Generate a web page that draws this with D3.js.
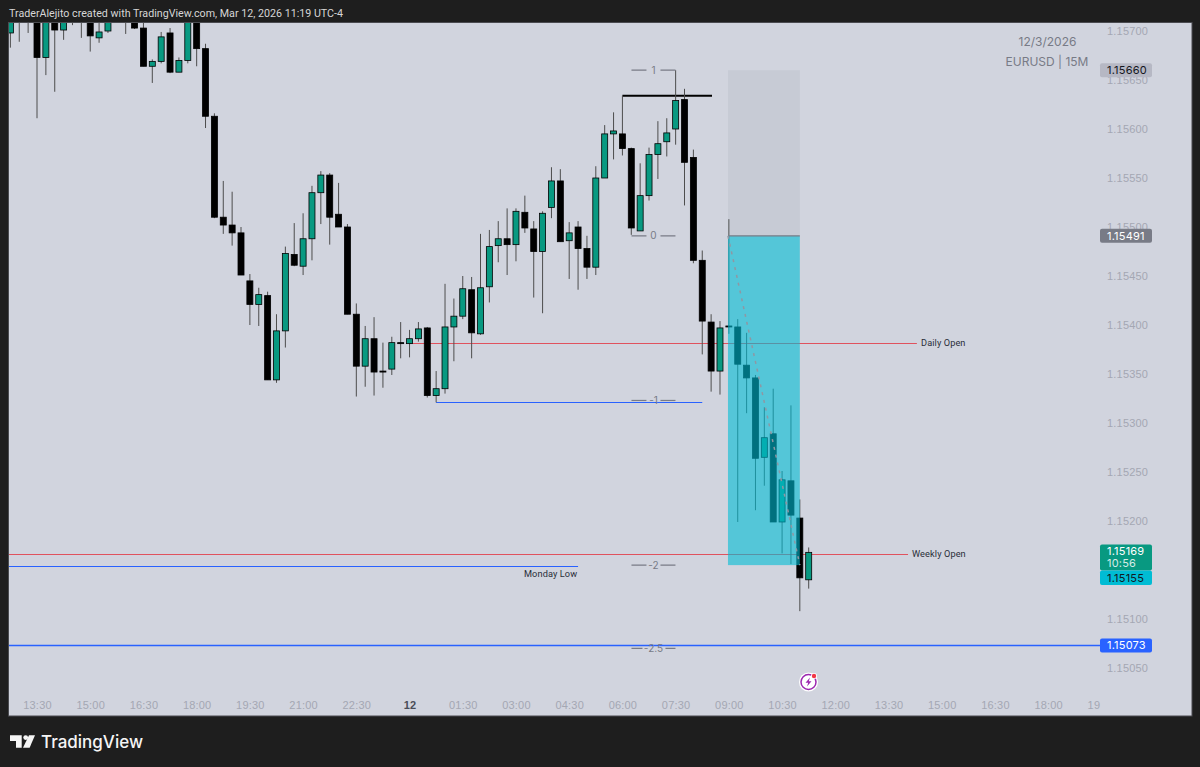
<!DOCTYPE html>
<html>
<head>
<meta charset="utf-8">
<script src="https://cdnjs.cloudflare.com/ajax/libs/d3/7.8.5/d3.min.js"></script>
<style>
  html, body { margin: 0; padding: 0; background: #1e1e1e; }
  svg { display: block; font-family: Inter, "Noto Sans", sans-serif; }
  .tick text { fill: #a4a7b3; font-size: 11px; letter-spacing: 0.2px; }
</style>
</head>
<body>
<div id="chart"></div>
<script>
// candles, one entry per 15 minute bar
var opens = [
  1.15698,1.15725,1.15715,1.15730,1.15673,1.15720,1.15701,1.15725,1.15715,1.15720,
  1.15693,1.15700,1.15730,1.15715,1.15715,1.15703,1.15664,1.15669,1.15698,1.15658,
  1.15670,1.15720,1.15682,1.15613,1.15510,1.15502,1.15494,1.15445,1.15421,1.15430,
  1.15344,1.15394,1.15472,1.15460,1.15488,1.15535,1.15553,1.15513,1.15500,1.15411,
  1.15358,1.15386,1.15353,1.15355,1.15382,1.15381,1.15386,1.15397,1.15328,1.15335,
  1.15398,1.15409,1.15436,1.15391,1.15439,1.15481,1.15488,1.15482,1.15515,1.15498,
  1.15475,1.15520,1.15547,1.15486,1.15500,1.15478,1.15459,1.15550,1.15595,1.15595,
  1.15580,1.15496,1.15532,1.15574,1.15587,1.15600,1.15630,1.15571,1.15466,1.15403,
  1.15353,1.15399,1.15398,1.15359,1.15346,1.15265,1.15289,1.15199,1.15241,1.15203,
  1.15140
];
var highs = [
  1.15720,1.15735,1.15735,1.15735,1.15725,1.15725,1.15720,1.15730,1.15730,1.15725,
  1.15715,1.15720,1.15735,1.15730,1.15720,1.15715,1.15671,1.15699,1.15703,1.15673,
  1.15725,1.15725,1.15687,1.15616,1.15547,1.15536,1.15500,1.15452,1.15438,1.15434,
  1.15411,1.15480,1.15504,1.15514,1.15542,1.15557,1.15555,1.15545,1.15503,1.15422,
  1.15399,1.15408,1.15382,1.15388,1.15403,1.15395,1.15403,1.15398,1.15353,1.15442,
  1.15427,1.15450,1.15449,1.15493,1.15497,1.15506,1.15519,1.15519,1.15532,1.15506,
  1.15516,1.15561,1.15559,1.15505,1.15506,1.15491,1.15562,1.15604,1.15617,1.15634,
  1.15581,1.15565,1.15581,1.15608,1.15611,1.15660,1.15641,1.15579,1.15476,1.15411,
  1.15404,1.15508,1.15406,1.15392,1.15349,1.15316,1.15335,1.15251,1.15318,1.15222,
  1.15173
];
var lows = [
  1.15683,1.15689,1.15698,1.15611,1.15655,1.15638,1.15691,1.15706,1.15693,1.15679,
  1.15688,1.15698,1.15712,1.15697,1.15702,1.15664,1.15647,1.15667,1.15657,1.15658,
  1.15667,1.15664,1.15601,1.15509,1.15493,1.15481,1.15451,1.15400,1.15399,1.15344,
  1.15341,1.15377,1.15460,1.15451,1.15466,1.15503,1.15482,1.15500,1.15411,1.15327,
  1.15337,1.15328,1.15336,1.15349,1.15366,1.15367,1.15383,1.15326,1.15321,1.15330,
  1.15363,1.15406,1.15366,1.15390,1.15423,1.15464,1.15451,1.15465,1.15494,1.15428,
  1.15412,1.15509,1.15485,1.15447,1.15436,1.15447,1.15451,1.15550,1.15569,1.15573,
  1.15492,1.15496,1.15527,1.15549,1.15572,1.15584,1.15522,1.15463,1.15370,1.15332,
  1.15329,1.15391,1.15199,1.15310,1.15211,1.15236,1.15199,1.15167,1.15156,1.15108,
  1.15131
];
var closes = [
  1.15715,1.15715,1.15730,1.15673,1.15720,1.15701,1.15715,1.15715,1.15725,1.15695,
  1.15699,1.15715,1.15720,1.15725,1.15703,1.15664,1.15669,1.15694,1.15658,1.15670,
  1.15720,1.15682,1.15613,1.15510,1.15502,1.15494,1.15451,1.15421,1.15431,1.15344,
  1.15394,1.15473,1.15461,1.15488,1.15535,1.15553,1.15510,1.15500,1.15411,1.15358,
  1.15386,1.15352,1.15352,1.15382,1.15381,1.15386,1.15396,1.15328,1.15335,1.15398,
  1.15409,1.15437,1.15392,1.15438,1.15480,1.15488,1.15482,1.15516,1.15499,1.15475,
  1.15514,1.15547,1.15485,1.15494,1.15478,1.15459,1.15550,1.15595,1.15598,1.15580,
  1.15499,1.15532,1.15574,1.15585,1.15596,1.15629,1.15566,1.15466,1.15404,1.15353,
  1.15397,1.15398,1.15360,1.15346,1.15264,1.15285,1.15199,1.15242,1.15206,1.15142,
  1.15168
];

// axes
var priceTicks = [1.15700,1.15650,1.15600,1.15550,1.15500,1.15450,1.15400,1.15350,1.15300,1.15250,1.15200,1.15100,1.15050];
var timeTickBars = [3,9,15,21,27,33,39,45,51,57,63,69,75,81,87,93,99,105,111,117,123];
var timeTickLabels = ["13:30","15:00","16:30","18:00","19:30","21:00","22:30","12","01:30","03:00","04:30","06:00","07:30","09:00","10:30","12:00","13:30","15:00","16:30","18:00","19"];

// horizontal levels: price, first bar, last bar
var levelNames = ["Daily Open","Weekly Open","Monday Low","Target","High","Low"];
var levelPrices = [1.15382,1.15166,1.15154,1.15073,1.15634,1.15321];
var levelStart = [44.9,-0.3,-0.3,-0.3,69,48];
var levelEnd = [102.2,101.2,64,124,79.1,78];

// fib labels
var fibLabels = ["1","0","-1","-2","-2.5"];
var fibPrices = [1.15660,1.15491,1.15323,1.15155,1.15070];

// short position tool
var posEntry = 1.15491, posStop = 1.15660, posTarget = 1.15155;
var posStartBar = 80.9, posEndBar = 89;

// price scale labels
var tagPrices = [1.15660,1.15491,1.15073];
var tagTexts = ["1.15660","1.15491","1.15073"];

function init() {
  var w = 1200, h = 767;
  var bg = "#1e1e1e", paneColor = "#d1d4de", green = "#089981";
  var paneLeft = 8.5, paneTop = 22.5, paneRight = 1192, paneBottom = 716, scaleLeft = 1100;

  var xScale = d3.scaleLinear().domain([3, 123]).range([37, 1101.4]);
  var yScale = d3.scaleLinear().domain([1.157, 1.1505]).range([31, 668]);

  var svg = d3.select("#chart").append("svg").attr("width", w).attr("height", h);

  svg.append("rect").attr("width", w).attr("height", h).attr("fill", bg);
  svg.append("rect")
    .attr("x", paneLeft).attr("y", paneTop)
    .attr("width", paneRight - paneLeft).attr("height", paneBottom - paneTop)
    .attr("fill", paneColor).attr("stroke", "#4a4b50").attr("stroke-width", 1);

  svg.append("text")
    .attr("x", 9).attr("y", 17)
    .attr("fill", "#d6d6d6").attr("font-size", 10.7).attr("font-family", "Roboto")
    .text("TraderAlejito created with TradingView.com, Mar 12, 2026 11:19 UTC-4");

  var defs = svg.append("defs");
  defs.append("clipPath").attr("id", "plot").append("rect")
    .attr("x", paneLeft + 0.5).attr("y", paneTop + 0.5)
    .attr("width", scaleLeft - paneLeft - 0.5).attr("height", paneBottom - paneTop - 1);

  var plot = svg.append("g").attr("clip-path", "url(#plot)");

  // levels sit below the candles
  var levelColor = ["#e0525e", "#e0525e", "#2962ff", "#2962ff", "#000", "#2962ff"];
  var levelWidth = [1, 1, 1, 1.5, 2, 1];

  // thin lines snapped to a pixel row
  function levelY(i) {
    var y = yScale(levelPrices[i]);
    return levelWidth[i] == 1 ? Math.round(y) + 0.5 : y;
  }

  plot.selectAll(".level").data(levelNames).enter().append("line")
    .attr("class", "level")
    .attr("x1", function (d, i) { return xScale(levelStart[i]); })
    .attr("x2", function (d, i) { return xScale(levelEnd[i]); })
    .attr("y1", function (d, i) { return levelY(i); })
    .attr("y2", function (d, i) { return levelY(i); })
    .attr("stroke", function (d, i) { return levelColor[i]; })
    .attr("stroke-width", function (d, i) { return levelWidth[i]; });

  // candles
  var bw = 6;
  var bars = plot.selectAll(".bar").data(opens).enter().append("g").attr("class", "bar");

  bars.append("line")
    .attr("x1", function (d, i) { return xScale(i); })
    .attr("x2", function (d, i) { return xScale(i); })
    .attr("y1", function (d, i) { return yScale(highs[i]); })
    .attr("y2", function (d, i) { return yScale(lows[i]); })
    .attr("stroke", "#4d4d4d").attr("stroke-width", 1);

  bars.append("rect")
    .attr("x", function (d, i) { return xScale(i) - bw / 2; })
    .attr("y", function (d, i) { return yScale(Math.max(opens[i], closes[i])); })
    .attr("width", bw)
    .attr("height", function (d, i) {
      return Math.max(1, Math.abs(yScale(opens[i]) - yScale(closes[i])));
    })
    .attr("fill", function (d, i) { return closes[i] >= opens[i] ? green : "#000"; })
    .attr("stroke", "#000").attr("stroke-width", 0.8);

  // position tool goes over the candles
  var px0 = xScale(posStartBar), px1 = xScale(posEndBar);
  plot.append("rect")
    .attr("x", px0).attr("y", yScale(posStop))
    .attr("width", px1 - px0).attr("height", yScale(posEntry) - yScale(posStop))
    .attr("fill", "rgba(120,123,134,0.1)");
  plot.append("rect")
    .attr("x", px0).attr("y", yScale(posEntry))
    .attr("width", px1 - px0).attr("height", yScale(posTarget) - yScale(posEntry))
    .attr("fill", "rgba(0,188,212,0.6)");
  plot.append("line")
    .attr("x1", px0).attr("x2", px1)
    .attr("y1", yScale(posEntry)).attr("y2", yScale(posEntry))
    .attr("stroke", "#787b86").attr("stroke-width", 1.2);
  plot.append("line")
    .attr("x1", px0).attr("x2", px1)
    .attr("y1", yScale(posEntry)).attr("y2", yScale(posTarget))
    .attr("stroke", "#8f97a3").attr("stroke-width", 1.5)
    .attr("stroke-dasharray", "3 5");

  // fib labels with the two short dashes around them
  var fibMid = xScale(72.5);
  var fib = plot.selectAll(".fib").data(fibLabels).enter().append("g").attr("class", "fib")
    .attr("transform", function (d, i) { return "translate(" + fibMid + "," + yScale(fibPrices[i]) + ")"; });
  fib.append("line").attr("x1", -22).attr("x2", function (d) { return d == "-2.5" ? -11 : -7; })
    .attr("stroke", "#787b86").attr("stroke-width", 1.2);
  fib.append("line").attr("x1", function (d) { return d == "-2.5" ? 12 : 7; }).attr("x2", 22)
    .attr("stroke", "#787b86").attr("stroke-width", 1.2);
  fib.append("text")
    .attr("text-anchor", "middle").attr("y", 3.5)
    .attr("fill", "#787b86").attr("font-size", 10)
    .text(function (d) { return d; });

  // level captions
  var caption = [
    { t: "Daily Open", x: 921, p: levelPrices[0], dy: 3.8 },
    { t: "Weekly Open", x: 912, p: levelPrices[1], dy: 3 },
    { t: "Monday Low", x: 524, p: levelPrices[2], dy: 10.5 }
  ];
  svg.selectAll(".caption").data(caption).enter().append("text")
    .attr("class", "caption")
    .attr("x", function (d) { return d.x; })
    .attr("y", function (d) { return yScale(d.p) + d.dy; })
    .attr("fill", "#2a2e39").attr("font-size", 9.2).attr("font-family", "Roboto").attr("letter-spacing", 0.1)
    .text(function (d) { return d.t; });

  // watermark text
  svg.append("text").attr("x", 1047.5).attr("y", 45.5).attr("text-anchor", "middle")
    .attr("fill", "#787b86").attr("font-size", 12).text("12/3/2026");
  svg.append("text").attr("x", 1047).attr("y", 65.5).attr("text-anchor", "middle")
    .attr("fill", "#787b86").attr("font-size", 12).text("EURUSD | 15M");

  // price axis
  var yAxis = d3.axisRight(yScale).tickValues(priceTicks).tickSize(0).tickPadding(0)
    .tickFormat(d3.format(".5f"));
  var yG = svg.append("g").attr("transform", "translate(1107,0)").call(yAxis);
  yG.select(".domain").remove();

  // time axis
  var xAxis = d3.axisBottom(xScale).tickValues(timeTickBars).tickSize(0).tickPadding(0)
    .tickFormat(function (d) { return timeTickLabels[timeTickBars.indexOf(d)]; });
  var xG = svg.append("g").attr("transform", "translate(0,701)").call(xAxis);
  xG.select(".domain").remove();
  xG.selectAll(".tick text")
    .filter(function (d) { return d == 45; })
    .style("fill", "#4a4d57").style("font-weight", 700);
  xG.selectAll(".tick text")
    .filter(function (d) { return d == 123; })
    .attr("dx", -8);

  // price tags on the scale
  var tagFill = ["#b6b8c4", "#787b86", "#2962ff"];
  var tagInk = ["#131722", "#fff", "#fff"];
  var tags = svg.selectAll(".tag").data(tagTexts).enter().append("g").attr("class", "tag")
    .attr("transform", function (d, i) { return "translate(1100," + yScale(tagPrices[i]) + ")"; });
  tags.append("rect").attr("y", -7).attr("width", 52).attr("height", 14).attr("rx", 2)
    .attr("fill", function (d, i) { return tagFill[i]; });
  tags.append("text").attr("x", 7).attr("y", 4).attr("font-size", 11).attr("letter-spacing", 0.2)
    .attr("fill", function (d, i) { return tagInk[i]; })
    .text(function (d) { return d; });

  // last price + countdown + target tag
  var last = closes[closes.length - 1] + 0.00001;
  var lastY = yScale(last);
  svg.append("rect").attr("x", 1100).attr("y", lastY - 7).attr("width", 52).attr("height", 26).attr("rx", 2).attr("fill", green);
  svg.append("text").attr("x", 1107).attr("y", lastY + 4).attr("font-size", 11).attr("letter-spacing", 0.2).attr("fill", "#fff").text(d3.format(".5f")(last));
  svg.append("text").attr("x", 1107).attr("y", lastY + 16).attr("font-size", 11).attr("letter-spacing", 0.2).attr("fill", "#d5ece7").text("10:56");
  svg.append("rect").attr("x", 1100).attr("y", lastY + 19).attr("width", 52).attr("height", 14.5).attr("rx", 2).attr("fill", "#00bcd4");
  svg.append("text").attr("x", 1107).attr("y", lastY + 30.5).attr("font-size", 11).attr("letter-spacing", 0.2).attr("fill", "#131722").text(d3.format(".5f")(posTarget));

  // broker event icon
  var icon = svg.append("g").attr("transform", "translate(808.5,682)");
  icon.append("circle").attr("r", 9.5).attr("fill", "#fff");
  icon.append("circle").attr("r", 7.5).attr("fill", "#fff").attr("stroke", "#9c27b0").attr("stroke-width", 1.5);
  icon.append("path").attr("d", "M1.5,-4.5 L-3,0.8 L-0.3,0.8 L-1.5,4.5 L3,-0.8 L0.3,-0.8 Z").attr("fill", "#9c27b0");
  icon.append("circle").attr("cx", 5.5).attr("cy", -6).attr("r", 3).attr("fill", "#fff");
  icon.append("circle").attr("cx", 5.5).attr("cy", -6).attr("r", 2.2).attr("fill", "#f23645");

  // TradingView logo
  var logo = svg.append("g").attr("fill", "#f5f5f5");
  logo.append("path").attr("d", "M10,735.3 H21.7 V747.7 H16 V741 H10 Z");
  logo.append("circle").attr("cx", 25.7).attr("cy", 737.6).attr("r", 2.4);
  logo.append("path").attr("d", "M29,735.3 H35 L29.6,747.7 H23 Z");
  svg.append("text").attr("x", 41).attr("y", 747.5)
    .attr("fill", "#f5f5f5").attr("font-size", 17).attr("font-weight", 500)
    .text("TradingView");
}

window.onload = init;
</script>
</body>
</html>
